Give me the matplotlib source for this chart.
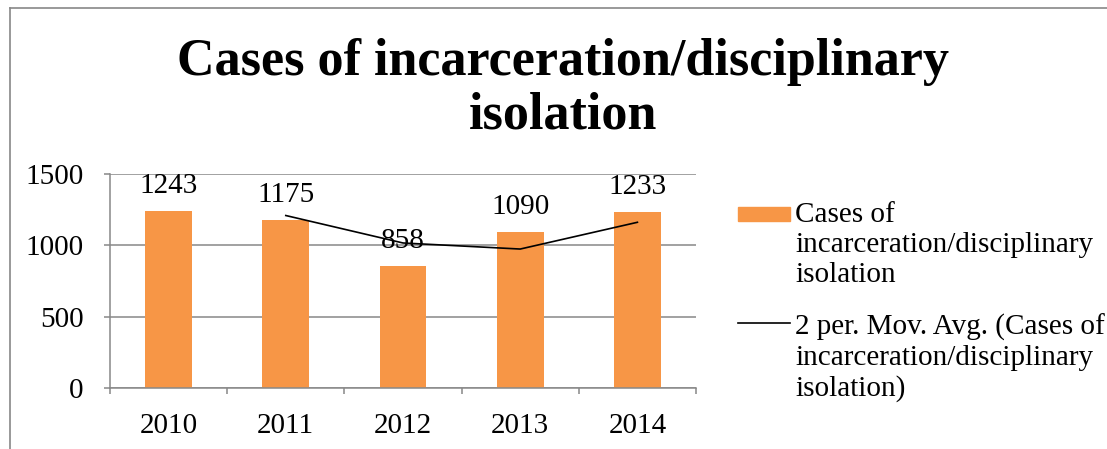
import numpy as np
import pandas as pd
import matplotlib
matplotlib.use('Agg')
import matplotlib.pyplot as plt
from matplotlib.lines import Line2D
from matplotlib.patches import Rectangle

years = ['2010', '2011', '2012', '2013', '2014']
cases = [1243, 1175, 858, 1090, 1233]

bar_label = 'Cases of\nincarceration/disciplinary\nisolation'
avg_label = '2 per. Mov. Avg. (Cases of\nincarceration/disciplinary\nisolation)'
title = 'Cases of incarceration/disciplinary\nisolation'

ORANGE = '#F79646'
GRAY = '#888888'
W, H = 1107, 449

plt.rcParams['font.family'] = ['Liberation Serif', 'DejaVu Serif']

fig = plt.figure(figsize=(W / 100, H / 100), dpi=100)
ax = fig.add_axes([110 / W, 1 - 388 / H, (696 - 110) / W, (388 - 174) / H])

x = np.arange(len(years))
ax.bar(x, cases, width=0.4, color=ORANGE, zorder=2)

# 2 period moving average, as the spreadsheet trendline does it
mov_avg = pd.Series(cases).rolling(2).mean()
ax.plot(x, mov_avg, color='black', lw=1.2, zorder=3)

for xi, v in zip(x, cases):
    ax.annotate(str(v), (xi, v), xytext=(0, 25), textcoords='offset pixels',
                ha='center', va='center', fontsize=21, zorder=4)

ax.set_xlim(-0.5, len(years) - 0.5)
ax.set_ylim(0, 1500)
ax.set_yticks([0, 500, 1000, 1500])
ax.set_xticks(x)
ax.set_xticklabels(years)
ax.set_xticks(np.arange(len(years) + 1) - 0.5, minor=True)

ax.yaxis.grid(True, color=GRAY, lw=1.1, zorder=0)
ax.set_axisbelow(True)
for side in ['top', 'right']:
    ax.spines[side].set_visible(False)
for side in ['left', 'bottom']:
    ax.spines[side].set_color(GRAY)
    ax.spines[side].set_linewidth(1.1)

ax.tick_params(axis='x', which='major', length=0, pad=18, labelsize=21)
ax.tick_params(axis='x', which='minor', length=4, width=1.1, color=GRAY)
ax.tick_params(axis='y', length=4, width=1.1, color=GRAY, pad=15, labelsize=21)

fig.text(563 / W, 1 - 89 / H, title, ha='center', va='center',
         fontsize=37.5, fontweight='bold', linespacing=1.16)

# legend drawn by hand so the keys sit on the first text line
fig.add_artist(Rectangle((738 / W, 1 - 221 / H), 52 / W, 14 / H,
                         color=ORANGE, transform=fig.transFigure))
fig.add_artist(Line2D([738 / W, 790 / W], [1 - 323 / H, 1 - 323 / H],
                      color='black', lw=1.2, transform=fig.transFigure))
fig.text(795 / W, 1 - 202 / H, bar_label, ha='left', va='top',
         fontsize=21, linespacing=1.2)
fig.text(795 / W, 1 - 314 / H, avg_label, ha='left', va='top',
         fontsize=21, linespacing=1.2)

# chart frame
fig.add_artist(Line2D([10 / W, 1], [1 - 8 / H, 1 - 8 / H], color=GRAY, lw=1.2,
                      transform=fig.transFigure))
fig.add_artist(Line2D([10 / W, 10 / W], [0, 1 - 8 / H], color=GRAY, lw=1.2,
                      transform=fig.transFigure))

fig.savefig('out.png', dpi=100, facecolor='white')
